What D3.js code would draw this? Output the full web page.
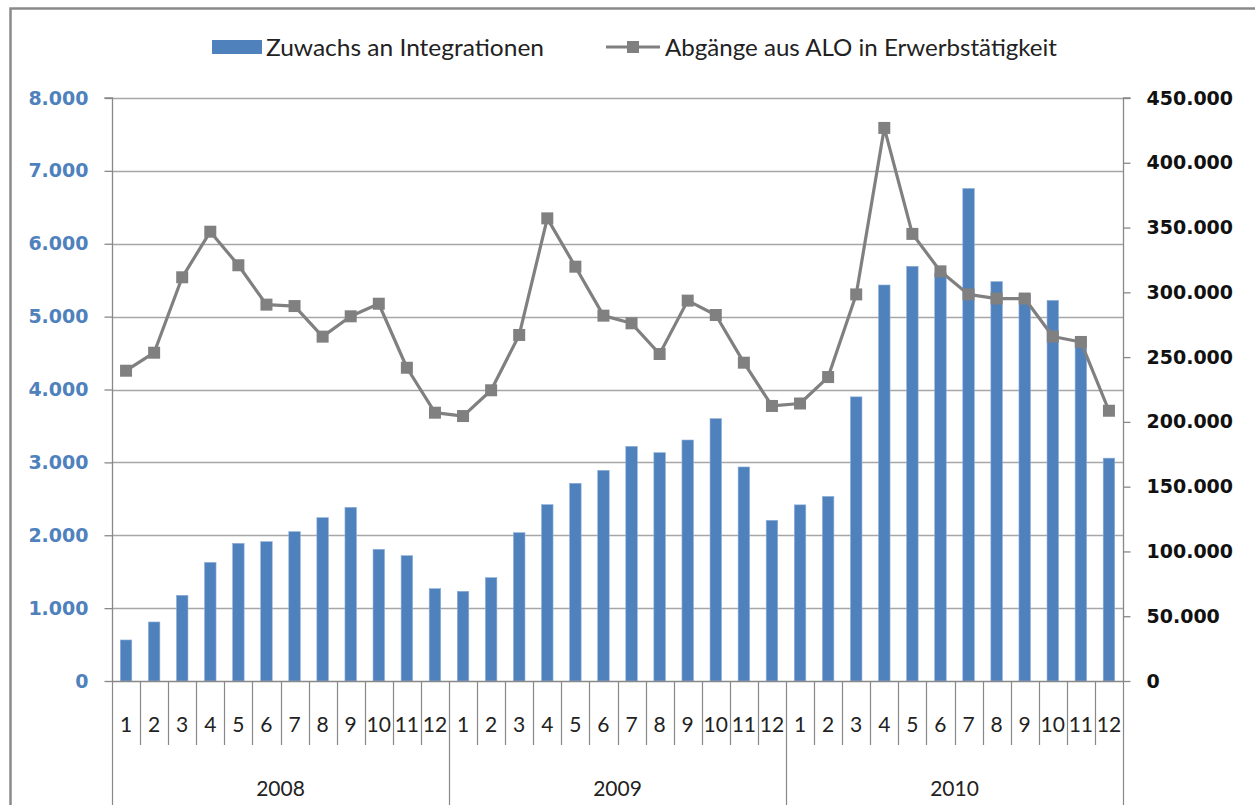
<!DOCTYPE html>
<html><head><meta charset="utf-8">
<script src="https://cdn.jsdelivr.net/npm/d3@7"></script>
<style>body{margin:0;background:#fff}svg{display:block}</style>
</head><body><svg id="c" width="1255" height="805"></svg>
<script>
const years = ["2008","2009","2010"];
const monthLabels = ["1","2","3","4","5","6","7","8","9","10","11","12"];
const integrations = [563,810,1176,1628,1889,1912,2049,2241,2383,1807,1720,1267,
  1231,1418,2035,2420,2713,2891,3220,3133,3307,3600,2937,2205,
  2417,2533,3899,5434,5691,5600,6758,5481,5300,5223,4700,3058];
const abgaenge = [239500,253400,311600,346800,320900,290500,289400,265800,281500,291200,241800,207100,
  204500,224400,267100,357100,319800,282000,276100,252400,293600,282500,245700,212300,
  214200,234600,298400,426900,345100,316200,298400,295200,295200,265900,261700,208600];
const leftTicks = [0,1000,2000,3000,4000,5000,6000,7000,8000];
const rightTicks = [0,50000,100000,150000,200000,250000,300000,350000,400000,450000];
const seriesNames = ["Zuwachs an Integrationen","Abgänge aus ALO in Erwerbstätigkeit"];

const cats = [];
years.forEach(y => monthLabels.forEach(m => cats.push(y + "-" + m)));

const svg = d3.select("#c");
const L = 112, R = 1123, T = 98, B = 681;
const loc = d3.formatLocale({decimal:",", thousands:".", grouping:[3], currency:["","€"]});
const fmt = loc.format(",d");
const textFont = "Lato, 'Open Sans', sans-serif";
const numFont = "'DejaVu Sans', Verdana, sans-serif";

// outer border
svg.append("path").attr("d", `M10.5,805 V8.5 H1255`).attr("fill","none").attr("stroke","#8a8a8a").attr("stroke-width",2.5);

const x = d3.scaleBand().domain(cats).range([L, R]).padding(0);
const yL = d3.scaleLinear().domain([0, 8000]).range([B, T]);
const yR = d3.scaleLinear().domain([0, 450000]).range([B, T]);

// gridlines
svg.append("g").selectAll("line").data(leftTicks.slice(1)).join("line")
  .attr("x1", L).attr("x2", R).attr("y1", d => Math.round(yL(d))+0.5).attr("y2", d => Math.round(yL(d))+0.5)
  .attr("stroke","#a6a6a6").attr("stroke-width",1.3);

// left axis
const gL = svg.append("g").attr("transform", `translate(${L+0.5},0)`)
  .call(d3.axisLeft(yL).tickValues(leftTicks).tickFormat(fmt).tickSize(8).tickPadding(16));
gL.select(".domain").attr("stroke","#888").attr("stroke-width",1.3).attr("d", `M-8,${T}H0V${B}`);
gL.selectAll(".tick line").attr("stroke","#888").attr("stroke-width",1.3);
gL.selectAll(".tick text").attr("fill","#4f81bd").attr("font-family",numFont).attr("font-weight","bold").attr("font-size",19);

// right axis
const gR = svg.append("g").attr("transform", `translate(${R+0.5},0)`)
  .call(d3.axisRight(yR).tickValues(rightTicks).tickFormat(fmt).tickSize(7).tickPadding(16));
gR.select(".domain").attr("stroke","#888").attr("stroke-width",1.3).attr("d", `M7,${T}H0V${B}`);
gR.selectAll(".tick line").attr("stroke","#888").attr("stroke-width",1.3);
gR.selectAll(".tick text").attr("fill","#111").attr("font-family",numFont).attr("font-weight","bold").attr("font-size",19);

// bars
const bw = 11.5;
svg.append("g").selectAll("rect").data(integrations).join("rect")
  .attr("x", (d,i) => x(cats[i]) + x.bandwidth()/2 - bw/2)
  .attr("width", bw)
  .attr("y", d => yL(d))
  .attr("height", d => B - yL(d))
  .attr("fill","#4f81bd").attr("stroke","#8fb0d8").attr("stroke-width",0.6);

// x axis baseline + category ticks
const gx = svg.append("g");
gx.append("line").attr("x1", L).attr("x2", R).attr("y1", B+0.5).attr("y2", B+0.5).attr("stroke","#888").attr("stroke-width",1.3);
cats.forEach((c,i) => {
  const xx = Math.round(x(c)) + 0.5;
  const isYear = i % 12 === 0;
  gx.append("line").attr("x1", xx).attr("x2", xx).attr("y1", B).attr("y2", isYear ? 805 : 745)
    .attr("stroke","#888").attr("stroke-width",1.2);
});
gx.append("line").attr("x1", R+0.5).attr("x2", R+0.5).attr("y1", B).attr("y2", 805).attr("stroke","#888").attr("stroke-width",1.2);
gx.selectAll("text.m").data(cats).join("text").attr("class","m")
  .attr("x", c => x(c) + x.bandwidth()/2).attr("y", 723)
  .attr("text-anchor","middle").attr("dominant-baseline","central")
  .attr("font-family",textFont).attr("font-size",21).attr("fill","#222")
  .text(c => c.split("-")[1]);
gx.selectAll("text.y").data(years).join("text").attr("class","y")
  .attr("x", (y,k) => (x(cats[k*12]) + x(cats[k*12+11]) + x.bandwidth())/2).attr("y", 787)
  .attr("text-anchor","middle").attr("dominant-baseline","central")
  .attr("font-family",textFont).attr("font-size",21).attr("fill","#222")
  .text(y => y);

// line series
const line = d3.line().x((d,i) => x(cats[i]) + x.bandwidth()/2).y(d => yR(d));
svg.append("path").datum(abgaenge).attr("d", line).attr("fill","none")
  .attr("stroke","#808080").attr("stroke-width",3.2).attr("stroke-linejoin","round");
const ms = 12;
svg.append("g").selectAll("rect").data(abgaenge).join("rect")
  .attr("x", (d,i) => x(cats[i]) + x.bandwidth()/2 - ms/2)
  .attr("y", d => yR(d) - ms/2)
  .attr("width", ms).attr("height", ms).attr("fill","#808080");

// legend
const lg = svg.append("g");
lg.append("rect").attr("x",212).attr("y",40).attr("width",50).attr("height",14).attr("fill","#4f81bd");
lg.append("text").attr("x",266).attr("y",47).attr("dominant-baseline","central")
  .attr("font-family",textFont).attr("font-size",23).attr("fill","#222")
  .attr("textLength",278).attr("lengthAdjust","spacingAndGlyphs").text(seriesNames[0]);
lg.append("line").attr("x1",606).attr("x2",660).attr("y1",47).attr("y2",47).attr("stroke","#808080").attr("stroke-width",3.2);
lg.append("rect").attr("x",627).attr("y",41).attr("width",12).attr("height",12).attr("fill","#808080");
lg.append("text").attr("x",665).attr("y",47).attr("dominant-baseline","central")
  .attr("font-family",textFont).attr("font-size",23).attr("fill","#222")
  .attr("textLength",392).attr("lengthAdjust","spacingAndGlyphs").text(seriesNames[1]);
</script></body></html>
